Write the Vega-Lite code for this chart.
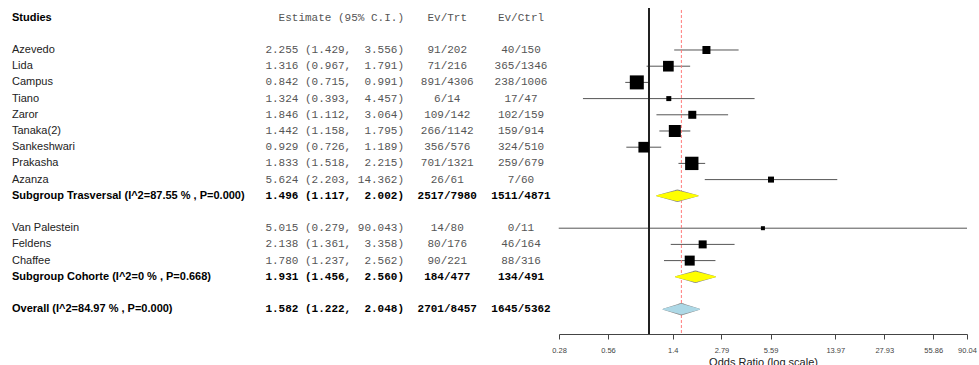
{
  "$schema": "https://vega.github.io/schema/vega-lite/v6.json",
  "padding": {"left": 12, "top": 0, "right": 12, "bottom": 0},
  "background": "white",
  "config": {
    "view": {"stroke": null},
    "axis": {
      "grid": false,
      "domain": true,
      "ticks": true,
      "domainColor": "#444",
      "domainWidth": 1,
      "tickColor": "#444",
      "tickWidth": 1,
      "tickSize": 5,
      "labelFont": "Liberation Sans",
      "labelFontSize": 7.5,
      "labelColor": "#444",
      "labelPadding": 7,
      "labelFlush": false,
      "labelOverlap": false,
      "titleFont": "Liberation Sans",
      "titleFontSize": 11,
      "titleFontWeight": "normal",
      "titleColor": "#222",
      "titlePadding": 3
    }
  },
  "datasets": {
    "rows": [
      {"row": 0, "kind": "header", "label": "Studies", "est": "Estimate (95% C.I.)", "trt": "Ev/Trt", "ctrl": "Ev/Ctrl"},
      {"row": 2, "kind": "study", "label": "Azevedo", "or": 2.255, "lo": 1.429, "hi": 3.556, "w": 6.4, "est": "2.255 (1.429, \u00a03.556)", "trt": "91/202", "ctrl": "40/150"},
      {"row": 3, "kind": "study", "label": "Lida", "or": 1.316, "lo": 0.967, "hi": 1.791, "w": 11.4, "est": "1.316 (0.967, \u00a01.791)", "trt": "71/216", "ctrl": "365/1346"},
      {"row": 4, "kind": "study", "label": "Campus", "or": 0.842, "lo": 0.715, "hi": 0.991, "w": 19.6, "est": "0.842 (0.715, \u00a00.991)", "trt": "891/4306", "ctrl": "238/1006"},
      {"row": 5, "kind": "study", "label": "Tiano", "or": 1.324, "lo": 0.393, "hi": 4.457, "w": 2.5, "est": "1.324 (0.393, \u00a04.457)", "trt": "6/14", "ctrl": "17/47"},
      {"row": 6, "kind": "study", "label": "Zaror", "or": 1.846, "lo": 1.112, "hi": 3.064, "w": 6.4, "est": "1.846 (1.112, \u00a03.064)", "trt": "109/142", "ctrl": "102/159"},
      {"row": 7, "kind": "study", "label": "Tanaka(2)", "or": 1.442, "lo": 1.158, "hi": 1.795, "w": 14.4, "est": "1.442 (1.158, \u00a01.795)", "trt": "266/1142", "ctrl": "159/914"},
      {"row": 8, "kind": "study", "label": "Sankeshwari", "or": 0.929, "lo": 0.726, "hi": 1.189, "w": 11.4, "est": "0.929 (0.726, \u00a01.189)", "trt": "356/576", "ctrl": "324/510"},
      {"row": 9, "kind": "study", "label": "Prakasha", "or": 1.833, "lo": 1.518, "hi": 2.215, "w": 17.8, "est": "1.833 (1.518, \u00a02.215)", "trt": "701/1321", "ctrl": "259/679"},
      {"row": 10, "kind": "study", "label": "Azanza", "or": 5.624, "lo": 2.203, "hi": 14.362, "w": 3.6, "est": "5.624 (2.203, 14.362)", "trt": "26/61", "ctrl": "7/60"},
      {"row": 11, "kind": "summary", "label": "Subgroup Trasversal (I^2=87.55 % , P=0.000)", "or": 1.496, "lo": 1.117, "hi": 2.002, "est": "1.496 (1.117, \u00a02.002)", "trt": "2517/7980", "ctrl": "1511/4871"},
      {"row": 13, "kind": "study", "label": "Van Palestein", "or": 5.015, "lo": 0.279, "hi": 90.043, "w": 1.6, "est": "5.015 (0.279, 90.043)", "trt": "14/80", "ctrl": "0/11"},
      {"row": 14, "kind": "study", "label": "Feldens", "or": 2.138, "lo": 1.361, "hi": 3.358, "w": 6.4, "est": "2.138 (1.361, \u00a03.358)", "trt": "80/176", "ctrl": "46/164"},
      {"row": 15, "kind": "study", "label": "Chaffee", "or": 1.780, "lo": 1.237, "hi": 2.562, "w": 10.0, "est": "1.780 (1.237, \u00a02.562)", "trt": "90/221", "ctrl": "88/316"},
      {"row": 16, "kind": "summary", "label": "Subgroup Cohorte (I^2=0 % , P=0.668)", "or": 1.931, "lo": 1.456, "hi": 2.560, "est": "1.931 (1.456, \u00a02.560)", "trt": "184/477", "ctrl": "134/491"},
      {"row": 18, "kind": "overall", "label": "Overall (I^2=84.97 % , P=0.000)", "or": 1.582, "lo": 1.222, "hi": 2.048, "est": "1.582 (1.222, \u00a02.048)", "trt": "2701/8457", "ctrl": "1645/5362"}
    ]
  },
  "data": {"name": "rows"},
  "spacing": 0,
  "hconcat": [
    {
      "width": 392,
      "height": 334,
      "encoding": {
        "y": {"field": "row", "type": "quantitative", "scale": {"domain": [-1.086, 19.531], "reverse": true, "nice": false, "zero": false}, "axis": null}
      },
      "layer": [
        {
          "transform": [{"filter": "datum.kind === 'study'"}],
          "mark": {"type": "text", "align": "left", "baseline": "middle", "font": "Liberation Sans", "fontSize": 11, "color": "#222"},
          "encoding": {"x": {"datum": 0, "type": "quantitative", "scale": {"domain": [0, 1], "nice": false, "zero": false}, "axis": null}, "text": {"field": "label"}}
        },
        {
          "transform": [{"filter": "datum.kind !== 'study'"}],
          "mark": {"type": "text", "align": "left", "baseline": "middle", "font": "Liberation Sans", "fontSize": 11, "fontWeight": "bold", "color": "#000"},
          "encoding": {"x": {"datum": 0, "type": "quantitative", "axis": null}, "text": {"field": "label"}}
        },
        {
          "transform": [{"filter": "datum.kind === 'study' || datum.kind === 'header'"}],
          "mark": {"type": "text", "align": "right", "baseline": "middle", "font": "Liberation Mono", "fontSize": 11, "color": "#555"},
          "encoding": {"x": {"datum": 1, "type": "quantitative", "axis": null}, "text": {"field": "est"}}
        },
        {
          "transform": [{"filter": "datum.kind === 'summary' || datum.kind === 'overall'"}],
          "mark": {"type": "text", "align": "right", "baseline": "middle", "font": "Liberation Mono", "fontSize": 11, "fontWeight": "bold", "color": "#000"},
          "encoding": {"x": {"datum": 1, "type": "quantitative", "axis": null}, "text": {"field": "est"}}
        }
      ]
    },
    {
      "width": 86.5,
      "height": 334,
      "encoding": {
        "y": {"field": "row", "type": "quantitative", "scale": {"domain": [-1.086, 19.531], "reverse": true, "nice": false, "zero": false}, "axis": null}
      },
      "layer": [
        {
          "transform": [{"filter": "datum.kind === 'study' || datum.kind === 'header'"}],
          "mark": {"type": "text", "align": "center", "baseline": "middle", "font": "Liberation Mono", "fontSize": 11, "color": "#555"},
          "encoding": {"x": {"datum": 0.5, "type": "quantitative", "scale": {"domain": [0, 1], "nice": false, "zero": false}, "axis": null}, "text": {"field": "trt"}}
        },
        {
          "transform": [{"filter": "datum.kind === 'summary' || datum.kind === 'overall'"}],
          "mark": {"type": "text", "align": "center", "baseline": "middle", "font": "Liberation Mono", "fontSize": 11, "fontWeight": "bold", "color": "#000"},
          "encoding": {"x": {"datum": 0.5, "type": "quantitative", "axis": null}, "text": {"field": "trt"}}
        }
      ]
    },
    {
      "width": 54,
      "height": 334,
      "encoding": {
        "y": {"field": "row", "type": "quantitative", "scale": {"domain": [-1.086, 19.531], "reverse": true, "nice": false, "zero": false}, "axis": null}
      },
      "layer": [
        {
          "transform": [{"filter": "datum.kind === 'study' || datum.kind === 'header'"}],
          "mark": {"type": "text", "align": "center", "baseline": "middle", "font": "Liberation Mono", "fontSize": 11, "color": "#555"},
          "encoding": {"x": {"datum": 0.5, "type": "quantitative", "scale": {"domain": [0, 1], "nice": false, "zero": false}, "axis": null}, "text": {"field": "ctrl"}}
        },
        {
          "transform": [{"filter": "datum.kind === 'summary' || datum.kind === 'overall'"}],
          "mark": {"type": "text", "align": "center", "baseline": "middle", "font": "Liberation Mono", "fontSize": 11, "fontWeight": "bold", "color": "#000"},
          "encoding": {"x": {"datum": 0.5, "type": "quantitative", "axis": null}, "text": {"field": "ctrl"}}
        }
      ]
    },
    {
      "width": 408,
      "height": 334,
      "resolve": {"axis": {"x": "independent"}},
      "encoding": {
        "y": {"field": "row", "type": "quantitative", "scale": {"domain": [-1.086, 19.531], "reverse": true, "nice": false, "zero": false}, "axis": null}
      },
      "layer": [
        {
          "transform": [{"filter": "datum.kind === 'study'"}],
          "mark": {"type": "rule", "color": "#555", "strokeWidth": 1},
          "encoding": {
            "x": {
              "field": "lo", "type": "quantitative",
              "scale": {"type": "log", "domain": [0.28, 90.04], "nice": false},
              "axis": {
                "values": [0.28, 0.56, 1.4, 2.79, 5.59, 13.97, 27.93, 55.86, 90.04],
                "format": "~g",
                "title": "Odds Ratio (log scale)"
              }
            },
            "x2": {"field": "hi"}
          }
        },
        {
          "mark": {"type": "rule", "color": "#222", "strokeWidth": 1},
          "encoding": {
            "x": {"datum": 1, "type": "quantitative", "axis": null},
            "y": {"datum": -0.57, "type": "quantitative", "axis": null},
            "y2": {"datum": 19.531}
          }
        },
        {
          "transform": [{"filter": "datum.kind === 'overall'"}],
          "mark": {"type": "rule", "color": "#ff7a7a", "strokeWidth": 1, "strokeDash": [3, 2]},
          "encoding": {
            "x": {"field": "or", "type": "quantitative", "axis": null},
            "y": {"datum": -0.47, "type": "quantitative", "axis": null},
            "y2": {"datum": 19.531}
          }
        },
        {
          "transform": [{"filter": "datum.kind === 'study'"}],
          "mark": {"type": "point", "shape": "square", "filled": true, "color": "#000", "opacity": 1},
          "encoding": {
            "x": {"field": "or", "type": "quantitative", "axis": null},
            "size": {"field": "w", "type": "quantitative", "scale": {"domain": [0, 20], "range": [0, 200]}, "legend": null}
          }
        },
        {
          "transform": [
            {"filter": "datum.kind === 'summary' || datum.kind === 'overall'"},
            {"fold": ["lo", "or", "hi"], "as": ["part", "val"]}
          ],
          "mark": {"type": "trail", "color": "#888", "opacity": 1},
          "encoding": {
            "x": {"field": "val", "type": "quantitative", "axis": null},
            "detail": {"field": "label"},
            "order": {"field": "val", "type": "quantitative"},
            "size": {"condition": {"test": "datum.part === 'or'", "value": 12.4}, "value": 0}
          }
        },
        {
          "transform": [
            {"filter": "datum.kind === 'summary' || datum.kind === 'overall'"},
            {"fold": ["lo", "or", "hi"], "as": ["part", "val"]}
          ],
          "mark": {"type": "trail", "opacity": 1},
          "encoding": {
            "x": {"field": "val", "type": "quantitative", "axis": null},
            "detail": {"field": "label"},
            "order": {"field": "val", "type": "quantitative"},
            "size": {"condition": {"test": "datum.part === 'or'", "value": 10.8}, "value": 0},
            "color": {"field": "kind", "type": "nominal", "scale": {"domain": ["summary", "overall"], "range": ["#ffff00", "#add8e6"]}, "legend": null}
          }
        }
      ]
    }
  ]
}
